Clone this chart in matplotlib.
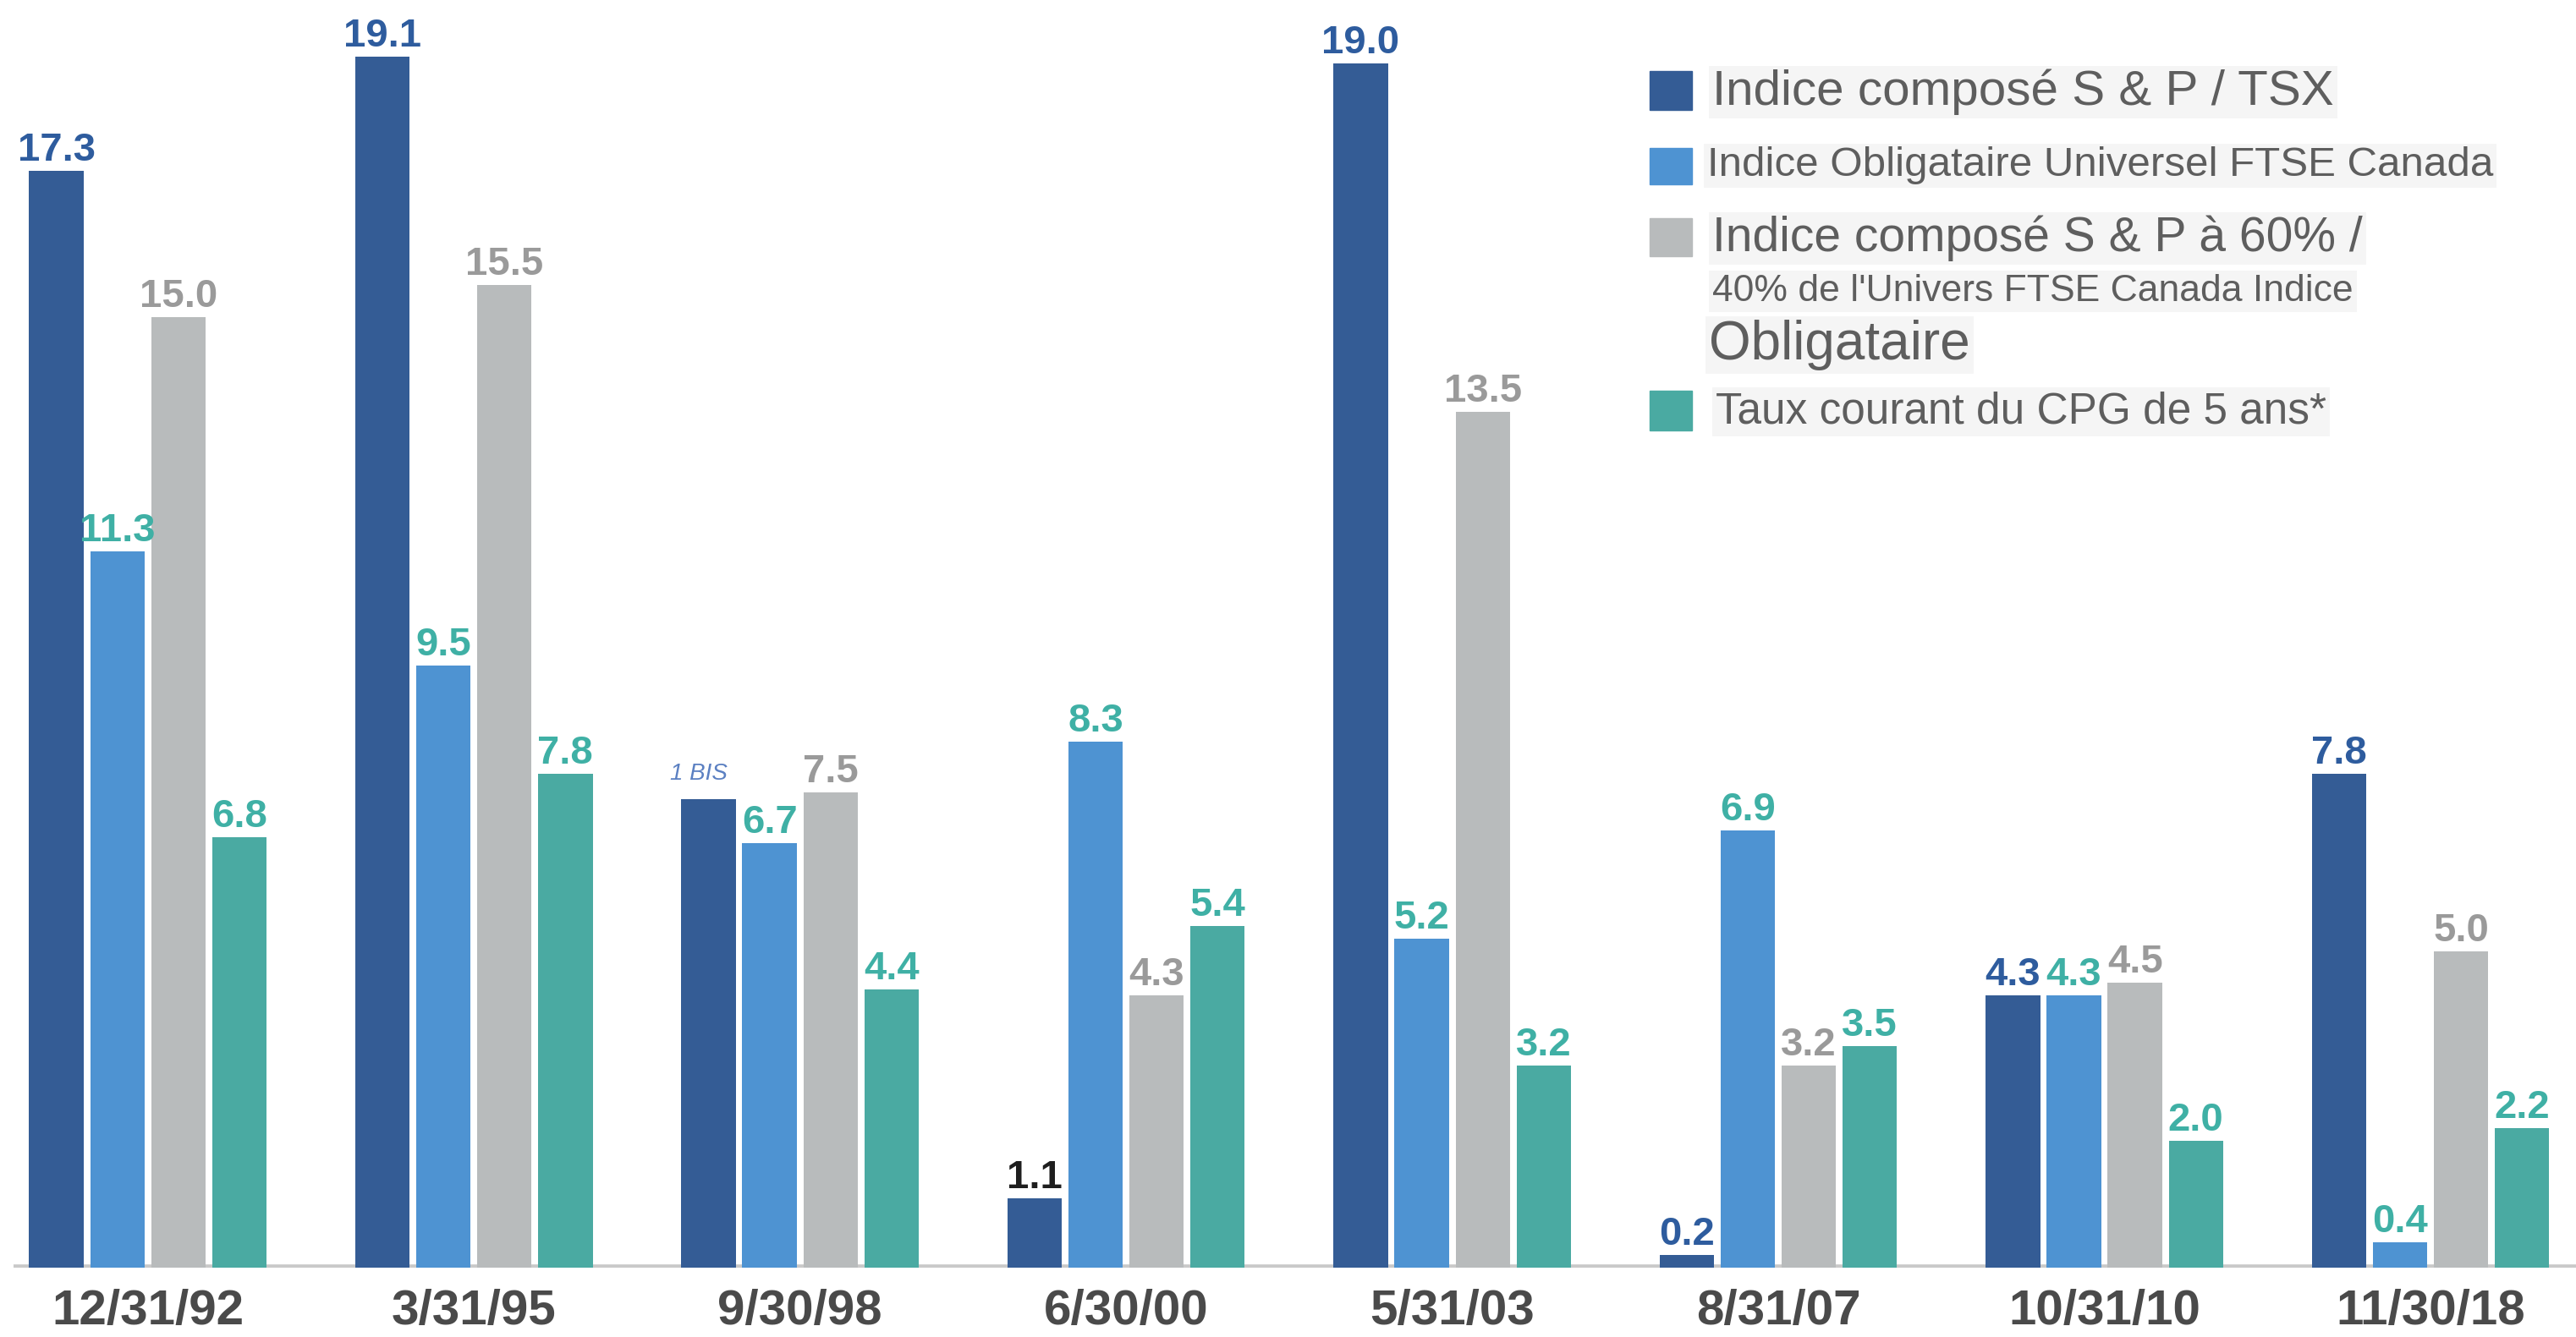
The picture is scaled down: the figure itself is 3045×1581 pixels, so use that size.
import matplotlib
matplotlib.use("Agg")
import matplotlib.pyplot as plt
from matplotlib.patches import Rectangle
import numpy as np

# dates of each period
dates = ["12/31/92", "3/31/95", "9/30/98", "6/30/00", "5/31/03", "8/31/07", "10/31/10", "11/30/18"]

# returns per series (%)
tsx = [17.3, 19.1, 7.4, 1.1, 19.0, 0.2, 4.3, 7.8]
bonds = [11.3, 9.5, 6.7, 8.3, 5.2, 6.9, 4.3, 0.4]
balanced = [15.0, 15.5, 7.5, 4.3, 13.5, 3.2, 4.5, 5.0]
gic = [6.8, 7.8, 4.4, 5.4, 3.2, 3.5, 2.0, 2.2]

tsx_labels = ["17.3", "19.1", "1 BIS", "1.1", "19.0", "0.2", "4.3", "7.8"]

legend_lines = [
    "Indice composé S & P / TSX",
    "Indice Obligataire Universel FTSE Canada",
    "Indice composé S & P à 60% /",
    "40% de l'Univers FTSE Canada Indice",
    "Obligataire",
    "Taux courant du CPG de 5 ans*",
]

c_dark = "#345c95"
c_blue = "#4e93d2"
c_grey = "#b8bbbc"
c_teal = "#4aaaa2"
c_lbl_dark = "#2e5c9e"
c_lbl_teal = "#3fb0a5"
c_lbl_grey = "#9a9a9a"

W, H = 3045, 1581
fig = plt.figure(figsize=(W / 100, H / 100), dpi=100)
ax = fig.add_axes([8 / 1568, 1 - 772 / 814, 1560 / 1568, 772 / 814])

x = np.arange(len(dates))
pitch = 0.187
bw = 0.167
series = [tsx, bonds, balanced, gic]
colors = [c_dark, c_blue, c_grey, c_teal]
lbl_colors = [c_lbl_dark, c_lbl_teal, c_lbl_grey, c_lbl_teal]

for i, (vals, col) in enumerate(zip(series, colors)):
    xs = x + (i - 1.5) * pitch
    ax.bar(xs, vals, width=bw, color=col, zorder=2)
    for j, (xx, v) in enumerate(zip(xs, vals)):
        if i == 0:
            txt = tsx_labels[j]
        else:
            txt = f"{v:.1f}"
        if txt == "1 BIS":
            ax.text(xx - 0.03, v + 0.3, txt, ha="center", va="baseline",
                    fontsize=20, style="italic", color="#5b80c2",
                    family="Liberation Sans")
            continue
        color = lbl_colors[i]
        if i == 0 and txt == "1.1":
            color = "#1e1e1e"
        ax.text(xx, v + 0.16, txt, ha="center", va="baseline", fontsize=34,
                fontweight="bold", color=color, family="Liberation Sans")

ax.axhline(0, color="#c9c9c9", lw=5.5, zorder=1)

ax.set_xlim(-0.413, 7.446)
ax.set_ylim(0, 20.0)
ax.set_xticks(x)
ax.set_xticklabels(dates, fontsize=42, fontweight="bold", color="#4a4a4a",
                   family="Liberation Sans")
ax.tick_params(axis="x", length=0, pad=18)
ax.set_yticks([])
for s in ax.spines.values():
    s.set_visible(False)

# legend, built by hand in pixel units
def fx(px):
    return px / W

def fy(py):
    return 1 - py / H

patch_rows = [(84, 130, c_dark), (175, 218, c_blue), (258, 303, c_grey), (462, 509, c_teal)]
for top, bot, col in patch_rows:
    fig.patches.append(Rectangle((fx(1950), fy(bot)), fx(2000) - fx(1950), fy(top) - fy(bot),
                                 transform=fig.transFigure, color=col))

text_rows = [
    (legend_lines[0], 2024, 109, 42),
    (legend_lines[1], 2018, 196, 35.5),
    (legend_lines[2], 2024, 282, 41),
    (legend_lines[3], 2024, 344, 32),
    (legend_lines[4], 2020, 408, 46),
    (legend_lines[5], 2028, 487, 37),
]
for txt, px, py, size in text_rows:
    fig.text(fx(px), fy(py), txt, ha="left", va="center", fontsize=size,
             color="#5e5e5e", family="Liberation Sans",
             bbox=dict(facecolor="#f5f5f5", edgecolor="none", pad=3))

fig.savefig("out.png", dpi=100, facecolor="white")
